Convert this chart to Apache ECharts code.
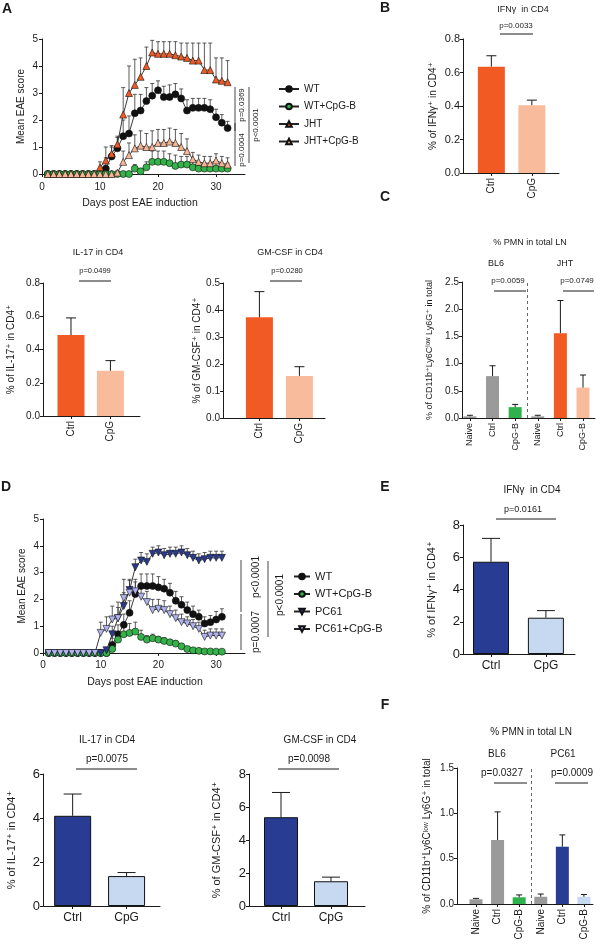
<!DOCTYPE html>
<html><head><meta charset="utf-8">
<script src="https://cdn.jsdelivr.net/npm/echarts@6/dist/echarts.min.js"></script>
<style>html,body{margin:0;padding:0;background:#fff}#c{width:600px;height:947px}</style>
</head><body><div id="c"></div>
<script>
const FONT = "'Liberation Sans', 'DejaVu Sans', Arial, sans-serif";
const INK = '#1a1a1a';

// ---------- Panel A : EAE score (JHT) ----------
const daysA = [1,2,3,4,5,6,7,8,9,10,11,12,13,14,15,16,17,18,19,20,21,22,23,24,25,26,27,28,29,30,31,32];
const A_WT = [0,0,0,0,0,0,0,0,0,0,0.2,0.65,0.95,1.4,1.5,2.25,2.35,2.7,2.9,3.1,2.85,2.85,2.95,2.8,2.35,2.45,2.45,2.45,2.4,2.1,1.9,1.7];
const A_WT_sem = [0,0,0,0,0,0,0,0,0,0,0.4,0.35,0.4,0.6,0.65,0.7,0.6,0.5,0.45,0.35,0.4,0.45,0.4,0.35,0.4,0.35,0.35,0.35,0.35,0.3,0.3,0.25];
const A_WTCpG = [0,0,0,0,0,0,0,0,0,0,0,0,0,0,0,0.2,0.1,0.25,0.45,0.45,0.45,0.4,0.3,0.35,0.35,0.25,0.2,0.2,0.2,0.2,0.2,0.2];
const A_WTCpG_sem = [0,0,0,0,0,0,0,0,0,0,0,0,0,0,0,0.15,0.1,0.2,0.4,0.4,0.4,0.35,0.4,0.3,0.3,0.2,0.2,0.2,0.2,0.2,0.2,0.2];
const A_JHT = [0,0,0,0,0,0,0,0,0,0.25,0.5,0.75,1.1,2.2,3.0,3.3,3.6,4.0,4.5,4.45,4.45,4.45,4.4,4.35,4.3,4.2,4.2,3.85,3.85,3.5,3.45,3.4];
const A_JHT_sem = [0,0,0,0,0,0,0,0,0,0.2,0.5,0.3,0.3,1.0,1.0,0.95,0.7,0.7,0.45,0.45,0.45,0.45,0.5,0.5,0.55,0.65,0.65,1.0,1.0,0.8,0.85,0.8];
const A_JHTCpG = [0,0,0,0,0,0,0,0,0,0,0,0,0.05,0.45,0.7,0.95,1.05,1.0,1.0,1.15,1.15,1.2,1.15,1.0,0.85,0.55,0.45,0.4,0.4,0.5,0.4,0.35];
const A_JHTCpG_sem = [0,0,0,0,0,0,0,0,0,0,0,0,0.05,0.4,0.45,0.5,0.55,0.5,0.6,0.5,0.5,0.5,0.5,0.5,0.45,0.25,0.25,0.25,0.25,0.25,0.25,0.25];

// ---------- Panel D : EAE score (PC61) ----------
const daysD = [1,2,3,4,5,6,7,8,9,10,11,12,13,14,15,16,17,18,19,20,21,22,23,24,25,26,27,28,29,30,31];
const D_WT = [0,0,0,0,0,0,0,0,0,0,0,0.3,0.7,1.05,1.5,2.2,2.5,2.5,2.5,2.45,2.4,2.25,1.95,1.8,1.6,1.45,1.35,1.1,1.15,1.25,1.35];
const D_WT_sem = [0,0,0,0,0,0,0,0,0,0,0,0.25,0.35,0.4,0.45,0.45,0.45,0.45,0.45,0.4,0.35,0.35,0.35,0.3,0.3,0.3,0.25,0.25,0.25,0.3,0.3];
const D_WTCpG = [0,0,0,0,0,0,0,0,0,0,0,0.15,0.5,0.7,0.75,0.8,0.6,0.5,0.55,0.5,0.45,0.4,0.35,0.25,0.15,0.1,0.08,0.06,0.06,0.05,0.05];
const D_WTCpG_sem = [0,0,0,0,0,0,0,0,0,0,0,0.1,0.2,0.3,0.35,0.35,0.25,0.15,0.15,0.12,0.12,0.1,0.1,0.08,0.05,0.05,0.04,0.03,0.03,0.03,0.03];
const D_PC61 = [0,0,0,0,0,0,0,0,0,0,0.1,0.7,1.3,1.75,2.35,3.2,3.45,3.4,3.7,3.75,3.65,3.7,3.7,3.75,3.65,3.55,3.45,3.5,3.55,3.55,3.55];
const D_PC61_sem = [0,0,0,0,0,0,0,0,0,0,0.1,0.3,0.4,0.5,0.35,0.3,0.3,0.3,0.25,0.25,0.25,0.25,0.25,0.25,0.25,0.25,0.25,0.25,0.25,0.25,0.25];
const D_PC61CpG = [0,0,0,0,0,0,0,0,0,0.75,0.9,1.25,1.3,2.05,2.25,2.3,2.1,1.9,1.6,1.65,1.6,1.45,1.3,1.15,1.1,1.0,0.9,0.6,0.65,0.65,0.65];
const D_PC61CpG_sem = [0,0,0,0,0,0,0,0,0,0.4,0.45,0.5,0.6,0.7,0.5,0.45,0.5,0.4,0.4,0.35,0.35,0.3,0.3,0.3,0.25,0.25,0.25,0.25,0.25,0.25,0.25];

const eaeTicks = [0,10,20,30];

// ---------- Bar panels ----------
const ctrlCpG = ['Ctrl','CpG'];
const B_vals = [0.635, 0.405];       const B_err = [0.065, 0.03];
const IL17a_vals = [0.487, 0.272];   const IL17a_err = [0.103, 0.061];
const GMa_vals = [0.373, 0.156];     const GMa_err = [0.095, 0.034];
const pmnCats = ['Naive','Ctrl','CpG-B','Naive','Ctrl','CpG-B'];
const C_vals = [0.03, 0.77, 0.2, 0.03, 1.56, 0.56]; const C_err = [0.02, 0.19, 0.05, 0.02, 0.6, 0.23];
const E_vals = [5.72, 2.25];         const E_err = [1.45, 0.44];
const IL17b_vals = [4.1, 1.36];      const IL17b_err = [0.99, 0.16];
const GMb_vals = [5.38, 1.5];        const GMb_err = [1.5, 0.25];
const F_vals = [0.052, 0.706, 0.074, 0.08, 0.632, 0.08]; const F_err = [0.01, 0.31, 0.026, 0.03, 0.13, 0.025];

const chart = echarts.init(document.getElementById('c'), null, {renderer:'canvas'});
const grids = [], xAxes = [], yAxes = [], series = [];

function errRender(capHalf, w, col){
  return function(params, api){
    const x = api.value(0), m = api.value(1), t = api.value(2);
    const p0 = api.coord([x, m]), p1 = api.coord([x, t]);
    const st = {stroke: col || INK, lineWidth: w};
    return {type:'group', children:[
      {type:'line', shape:{x1:p0[0], y1:p0[1], x2:p1[0], y2:p1[1]}, style:st},
      {type:'line', shape:{x1:p1[0]-capHalf, y1:p1[1], x2:p1[0]+capHalf, y2:p1[1]}, style:st}
    ]};
  };
}
const axLine = {show:true, onZero:false, lineStyle:{color:INK, width:1}};

function addLinePanel(cfg){
  const gi = grids.length;
  grids.push(cfg.grid);
  xAxes.push({type:'value', gridIndex:gi, min:0, max:35, interval:10,
    axisLine:axLine, splitLine:{show:false},
    axisTick:{show:true, length:3, customValues:eaeTicks, lineStyle:{color:INK}},
    axisLabel:{customValues:eaeTicks, fontSize:cfg.fs, fontFamily:FONT, color:INK, margin:cfg.labelMargin}});
  yAxes.push({type:'value', gridIndex:gi, min:0, max:5, interval:1,
    axisLine:axLine, splitLine:{show:false},
    axisTick:{show:true, length:3, lineStyle:{color:INK}},
    axisLabel:{fontSize:cfg.fs, fontFamily:FONT, color:INK, margin:4},
    name:'Mean EAE score', nameLocation:'middle', nameGap:cfg.nameGap, nameRotate:90,
    nameTextStyle:{fontSize:cfg.fs, fontFamily:FONT, color:INK}});
  cfg.groups.forEach(g => {
    const ed = cfg.days.map((d,i)=>[d, g.mean[i], g.mean[i]+g.sem[i]]).filter(r=>r[2]>r[1]);
    series.push({type:'custom', xAxisIndex:gi, yAxisIndex:gi, renderItem:errRender(2, 0.8, '#333'), data:ed, z:2, silent:true, animation:false});
  });
  cfg.groups.forEach(g => {
    series.push({type:'line', name:g.name, xAxisIndex:gi, yAxisIndex:gi,
      data: cfg.days.map((d,i)=>[d, g.mean[i]]),
      symbol:g.symbol, symbolRotate:g.rot||0, symbolSize:g.size, showAllSymbol:true,
      itemStyle:{color:g.color, borderColor:'#111', borderWidth:0.6},
      lineStyle:{color:'#222', width:0.9}, z:3, animation:false});
  });
}

function addBarPanel(cfg){
  const gi = grids.length;
  grids.push(cfg.grid);
  const idx = cfg.cats.map((c,i)=>i);
  xAxes.push({type:'value', gridIndex:gi, min:cfg.xmin, max:cfg.xmax,
    axisLine:axLine, splitLine:{show:false},
    axisTick:{show:true, length:3, customValues:idx, lineStyle:{color:INK}},
    axisLabel:{customValues:idx, formatter:v=>cfg.cats[Math.round(v)], rotate:cfg.rot, fontSize:cfg.xfs, fontFamily:FONT, color:INK, margin:cfg.xmargin}});
  yAxes.push({type:'value', gridIndex:gi, min:0, max:cfg.ymax, interval:cfg.yint,
    axisLine:axLine, splitLine:{show:false},
    axisTick:{show:true, length:3, lineStyle:{color:INK}},
    axisLabel:{formatter:v=>v.toFixed(cfg.dec), fontSize:cfg.yfs, fontFamily:FONT, color:INK, margin:3},
    name:cfg.yName, nameLocation:'middle', nameGap:cfg.nameGap, nameRotate:90,
    nameTextStyle:{fontSize:cfg.nfs, fontFamily:FONT, color:INK}});
  const bar = {type:'bar', xAxisIndex:gi, yAxisIndex:gi, barWidth:cfg.bw, animation:false,
    data: cfg.values.map((v,i)=>({value:[i, v], itemStyle:{color:cfg.colors[i], borderColor:'#111', borderWidth:cfg.border?1:0}})), z:2};
  if (cfg.divider !== undefined){
    bar.markLine = {silent:true, symbol:'none', label:{show:false}, animation:false,
      lineStyle:{color:'#666', type:[3,3], width:1}, data:[{xAxis:cfg.divider}]};
  }
  series.push(bar);
  series.push({type:'custom', xAxisIndex:gi, yAxisIndex:gi, renderItem:errRender(cfg.cap, 1), z:3, silent:true, animation:false,
    data: cfg.values.map((v,i)=>[i, v, v+cfg.errs[i]])});
}

// Panel A
addLinePanel({grid:{left:42, top:39, width:203, height:135}, fs:10, labelMargin:8, nameGap:16, days:daysA, groups:[
  {name:'WT', mean:A_WT, sem:A_WT_sem, symbol:'circle', size:7, color:'#111'},
  {name:'WT+CpG-B', mean:A_WTCpG, sem:A_WTCpG_sem, symbol:'circle', size:7, color:'#35b34a'},
  {name:'JHT', mean:A_JHT, sem:A_JHT_sem, symbol:'triangle', size:7, color:'#f15a24'},
  {name:'JHT+CpG-B', mean:A_JHTCpG, sem:A_JHTCpG_sem, symbol:'triangle', size:7, color:'#f7b595'}
]});
// Panel D
addLinePanel({grid:{left:43, top:519, width:202, height:134}, fs:10, labelMargin:7, nameGap:16, days:daysD, groups:[
  {name:'WT', mean:D_WT, sem:D_WT_sem, symbol:'circle', size:7, color:'#111'},
  {name:'WT+CpG-B', mean:D_WTCpG, sem:D_WTCpG_sem, symbol:'circle', size:7, color:'#35b34a'},
  {name:'PC61', mean:D_PC61, sem:D_PC61_sem, symbol:'triangle', rot:180, size:7, color:'#2b3a8f'},
  {name:'PC61+CpG-B', mean:D_PC61CpG, sem:D_PC61CpG_sem, symbol:'triangle', rot:180, size:7, color:'#b0b3ee'}
]});

const ORANGE = '#f15a22', LORANGE = '#f8bc9d', GRAY = '#9a9a9a', GREEN = '#2fb24b', BLUE = '#283c93', LBLUE = '#c6d9f1';
// B
addBarPanel({grid:{left:463, top:39, width:96, height:134}, xmin:-0.70, xmax:1.67, cats:ctrlCpG, values:B_vals, errs:B_err,
  colors:[ORANGE, LORANGE], bw:27, cap:5, rot:90, xfs:10, xmargin:5, ymax:0.8, yint:0.2, dec:1, yfs:11,
  yName:'% of IFNγ⁺ in CD4⁺', nameGap:25, nfs:10});
// IL-17 top
addBarPanel({grid:{left:43, top:283, width:97, height:133}, xmin:-0.71, xmax:1.75, cats:ctrlCpG, values:IL17a_vals, errs:IL17a_err,
  colors:[ORANGE, LORANGE], bw:27, cap:5, rot:90, xfs:10, xmargin:5, ymax:0.8, yint:0.2, dec:1, yfs:10,
  yName:'% of IL-17⁺ in CD4⁺', nameGap:27, nfs:10});
// GM-CSF top
addBarPanel({grid:{left:223, top:283, width:102, height:135}, xmin:-0.91, xmax:1.64, cats:ctrlCpG, values:GMa_vals, errs:GMa_err,
  colors:[ORANGE, LORANGE], bw:27, cap:5, rot:90, xfs:10, xmargin:5, ymax:0.5, yint:0.1, dec:1, yfs:10,
  yName:'% of GM-CSF⁺ in CD4⁺', nameGap:18, nfs:10});
// C
addBarPanel({grid:{left:462, top:282, width:133, height:136}, xmin:-0.35, xmax:5.53, cats:pmnCats, values:C_vals, errs:C_err,
  colors:[GRAY, GRAY, GREEN, GRAY, ORANGE, LORANGE], bw:13, cap:3, rot:90, xfs:9, xmargin:5, ymax:2.5, yint:0.5, dec:1, yfs:10,
  yName:'% of CD11b⁺Ly6Cˡᵒʷ Ly6G⁺ in total', nameGap:28, nfs:9, divider:2.55});
// E
addBarPanel({grid:{left:463, top:525, width:112, height:129}, xmin:-0.51, xmax:1.53, cats:ctrlCpG, values:E_vals, errs:E_err,
  colors:[BLUE, LBLUE], bw:36, cap:9, rot:0, xfs:12, xmargin:6, ymax:8, yint:2, dec:0, yfs:13, border:true,
  yName:'% of IFNγ⁺ in CD4⁺', nameGap:26, nfs:11});
// IL-17 bottom
addBarPanel({grid:{left:43, top:774, width:117, height:132}, xmin:-0.55, xmax:1.62, cats:ctrlCpG, values:IL17b_vals, errs:IL17b_err,
  colors:[BLUE, LBLUE], bw:37, cap:9, rot:0, xfs:12, xmargin:6, ymax:6, yint:2, dec:0, yfs:13, border:true,
  yName:'% of IL-17⁺ in CD4⁺', nameGap:26, nfs:11});
// GM-CSF bottom
addBarPanel({grid:{left:249, top:774, width:116, height:132}, xmin:-0.64, xmax:1.68, cats:ctrlCpG, values:GMb_vals, errs:GMb_err,
  colors:[BLUE, LBLUE], bw:34, cap:9, rot:0, xfs:12, xmargin:6, ymax:8, yint:2, dec:0, yfs:13, border:true,
  yName:'% of GM-CSF⁺ in CD4⁺', nameGap:27, nfs:11});
// F
addBarPanel({grid:{left:457, top:768, width:136, height:136}, xmin:-0.88, xmax:5.42, cats:pmnCats, values:F_vals, errs:F_err,
  colors:[GRAY, GRAY, GREEN, GRAY, BLUE, LBLUE], bw:13, cap:3, rot:90, xfs:10, xmargin:5, ymax:1.5, yint:0.5, dec:1, yfs:10,
  yName:'% of CD11b⁺Ly6Cˡᵒʷ Ly6G⁺ in total', nameGap:25, nfs:10, divider:2.55});

// ---------- annotations ----------
const G = [];
function T(text, x, y, size, opt){
  opt = opt || {};
  G.push({type:'text', x:x, y:y, rotation:opt.rot||0, silent:true,
    style:{text:text, fontSize:size, fontFamily:FONT, fontWeight:opt.bold?'bold':'normal', fill:INK, align:opt.align||'center', verticalAlign:'middle'}});
}
function L(x1, y1, x2, y2, w){
  G.push({type:'line', silent:true, shape:{x1:x1, y1:y1, x2:x2, y2:y2}, style:{stroke:INK, lineWidth:w||1}});
}
const R = Math.PI/2;
// panel letters
T('A', 7, 9, 14, {bold:true}); T('B', 385, 8, 14, {bold:true}); T('C', 385, 197, 14, {bold:true});
T('D', 6, 487, 14, {bold:true}); T('E', 385, 487, 14, {bold:true}); T('F', 385, 705, 14, {bold:true});
// A
T('Days post EAE induction', 140, 203, 10.5);
L(235, 87, 235, 131, 0.8); L(235, 123, 235, 166, 0.8); L(249, 87, 249, 163, 0.8);
T('p=0.0369', 242, 105, 8, {rot:R}); T('p=0.0004', 242, 150, 8, {rot:R}); T('p<0.0001', 256, 125, 8, {rot:R});
// B
T('IFNγ  in CD4', 523, 10, 9); T('p=0.0033', 516, 26, 8); L(500, 34, 533, 34);
// IL-17 / GM-CSF top
T('IL-17 in CD4', 98, 253, 9); T('p=0.0499', 95, 271, 7.5); L(79, 281, 111, 281);
T('GM-CSF in CD4', 290, 253, 9); T('p=0.0280', 287, 271, 7.5); L(270, 281, 302, 281);
// C
T('% PMN in total LN', 530, 243, 9); T('BL6', 496, 264, 9); T('JHT', 565, 264, 9);
T('p=0.0059', 508, 281, 8); L(494, 291, 526, 291); T('p=0.0749', 577, 281, 8); L(563, 291, 594, 291);
// D
T('Days post EAE induction', 145, 682, 10.5);
L(241, 560, 241, 612, 0.8); L(241, 614, 241, 650, 0.8); L(268, 561, 268, 637, 0.8);
T('p<0.0001', 256, 577, 10, {rot:R}); T('p=0.0007', 256, 632, 10, {rot:R}); T('p<0.0001', 280, 595, 10, {rot:R});
// E
T('IFNγ  in CD4', 532, 490, 10); T('p=0.0161', 523, 510, 9); L(496, 519, 556, 519);
// IL-17 / GM-CSF bottom
T('IL-17 in CD4', 107, 740, 10); T('p=0.0075', 107, 759, 10); L(76, 769, 137, 769);
T('GM-CSF in CD4', 320, 740, 10); T('p=0.0098', 309, 759, 10); L(278, 769, 339, 769);
// F
T('% PMN in total LN', 531, 732, 10); T('BL6', 497, 754, 10); T('PC61', 563, 754, 10);
T('p=0.0327', 502, 773, 10); L(494, 783, 527, 783); T('p=0.0009', 572, 773, 10); L(555, 783, 588, 783);

const legendText = {fontSize:10, fontFamily:FONT, color:INK};
chart.setOption({
  animation:false,
  backgroundColor:'#ffffff',
  grid:grids, xAxis:xAxes, yAxis:yAxes, series:series,
  legend:[
    {orient:'vertical', left:278, top:84, padding:0, itemWidth:20, itemHeight:7, itemGap:7.5, selectedMode:false,
     data:['WT','WT+CpG-B','JHT','JHT+CpG-B'], textStyle:legendText},
    {orient:'vertical', left:293, top:571, padding:0, itemWidth:16, itemHeight:7, itemGap:6.5, selectedMode:false,
     data:['WT','WT+CpG-B','PC61','PC61+CpG-B'], textStyle:{fontSize:11, fontFamily:FONT, color:INK}}
  ],
  graphic:G
});
</script></body></html>
